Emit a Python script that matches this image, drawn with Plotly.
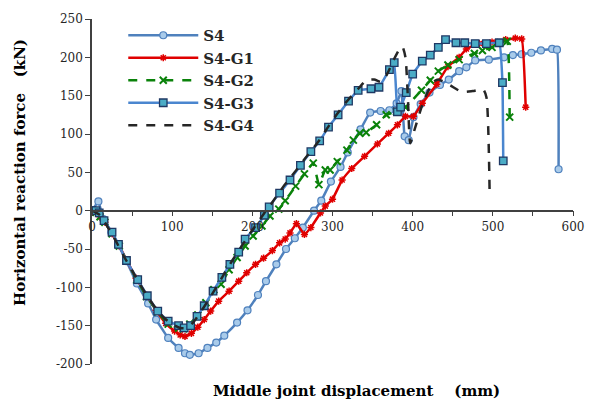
import plotly.graph_objects as go

# ---- data ----
s4_x = [0, 8, 14, 24, 33, 43, 56, 70, 80, 95, 108, 116, 122, 133, 144, 155, 165, 181, 194, 207, 217, 230, 242, 253, 263, 277, 286, 298, 310, 319, 335, 347, 360, 371, 380, 386, 390, 395, 401, 410, 421, 434, 445, 458, 467, 478, 495, 514, 525, 536, 548, 560, 574, 580, 582]
s4_y = [0, 12, -11, -28, -45, -66, -95, -121, -142, -166, -179, -186, -188, -186, -179, -172, -163, -146, -130, -110, -92, -70, -50, -36, -22, 0, 13, 38, 57, 76, 106, 128, 130, 131, 140, 156, 97, 92, 122, 139, 154, 164, 171, 182, 187, 196, 197, 200, 203, 204, 206, 209, 211, 210, 54]

g1_x = [0, 5, 10, 16, 25, 34, 43, 55, 68, 80, 92, 103, 110, 116, 124, 132, 140, 148, 158, 171, 183, 193, 204, 214, 225, 234, 241, 247, 255, 265, 273, 285, 291, 300, 312, 324, 340, 356, 370, 381, 391, 401, 412, 430, 444, 458, 467, 483, 499, 516, 528, 536, 541]
g1_y = [0, -2, -8, -15, -30, -46, -64, -88, -110, -130, -147, -157, -162, -164, -160, -152, -142, -131, -118, -105, -92, -81, -70, -62, -52, -42, -37, -29, -17, -31, -22, -3, 6, 15, 40, 55, 71, 87, 101, 112, 123, 123, 140, 165, 188, 200, 211, 218, 220, 223, 225, 224, 135]

g2_x = [0, 5, 10, 16, 25, 34, 43, 56, 68, 82, 95, 108, 114, 122, 132, 142, 152, 161, 171, 181, 191, 201, 212, 222, 233, 241, 254, 265, 276, 283, 291, 297, 306, 318, 326, 334, 342, 355, 367, 380, 391, 411, 422, 432, 444, 458, 477, 487, 499, 509, 518, 521]
g2_y = [0, -2, -8, -15, -30, -46, -65, -90, -112, -132, -148, -153, -154, -148, -136, -120, -103, -96, -77, -61, -46, -33, -20, -7, 2, 13, 32, 48, 62, 34, 53, 53, 64, 79, 92, 101, 102, 112, 125, 129, 135, 157, 170, 182, 190, 197, 205, 209, 213, 219, 221, 122]

g3_x = [0, 5, 9, 15, 25, 33, 43, 57, 69, 82, 95, 108, 115, 123, 131, 140, 151, 162, 172, 183, 191, 204, 215, 221, 234, 247, 260, 273, 284, 295, 307, 320, 332, 348, 358, 371, 377, 381, 385, 392, 400, 412, 422, 432, 441, 454, 465, 478, 492, 508, 512, 513]
g3_y = [0, 0, -3, -13, -28, -44, -65, -90, -111, -131, -144, -150, -153, -150, -138, -124, -105, -87, -70, -54, -37, -22, -6, 5, 23, 40, 59, 77, 91, 109, 125, 143, 157, 159, 161, 184, 193, 129, 135, 154, 178, 195, 203, 213, 223, 219, 219, 218, 218, 219, 167, 65]

g4_x = [0, 10, 20, 30, 40, 50, 60, 70, 80, 90, 100, 110, 118, 126, 135, 145, 155, 165, 175, 185, 195, 205, 215, 225, 235, 245, 255, 265, 275, 285, 295, 305, 315, 325, 333, 342, 352, 361, 368, 376, 382, 387, 391, 394, 397, 401, 414, 426, 432, 446, 461, 475, 488, 492, 496]
g4_y = [0, -6, -22, -40, -60, -78, -96, -113, -128, -140, -148, -153, -153, -146, -133, -117, -100, -82, -65, -49, -33, -18, -3, 11, 26, 40, 53, 67, 80, 94, 110, 125, 139, 151, 160, 170, 171, 168, 178, 196, 208, 214, 200, 148, 88, 101, 144, 168, 171, 164, 155, 156, 158, 148, 23]

x_ticks = [0, 100, 200, 300, 400, 500, 600]
y_ticks = [-200, -150, -100, -50, 0, 50, 100, 150, 200, 250]

series = ["S4", "S4-G1", "S4-G2", "S4-G3", "S4-G4"]

fig = go.Figure()

fig.add_trace(go.Scatter(
    x=s4_x, y=s4_y, name=series[0], mode="lines+markers",
    line=dict(color="#4F81BD", width=2.5, shape="spline", smoothing=0.3),
    marker=dict(symbol="circle", size=7, color="#A9CBEA", line=dict(color="#4F81BD", width=1.2))))

fig.add_trace(go.Scatter(
    x=g1_x, y=g1_y, name=series[1], mode="lines+markers",
    line=dict(color="#E00000", width=2.5, shape="spline", smoothing=0.3),
    marker=dict(symbol="asterisk-open", size=6, line=dict(color="#FF6060", width=1.5))))

fig.add_trace(go.Scatter(
    x=g2_x, y=g2_y, name=series[2], mode="lines+markers",
    line=dict(color="#0A820A", width=2.5, dash="dash", shape="spline", smoothing=0.3),
    marker=dict(symbol="x-thin-open", size=7, line=dict(color="#0A820A", width=2))))

fig.add_trace(go.Scatter(
    x=g3_x, y=g3_y, name=series[3], mode="lines+markers",
    line=dict(color="#4A86CF", width=2.5, shape="spline", smoothing=0.3),
    marker=dict(symbol="square", size=7.5, color="#4BACC6", line=dict(color="#1F3864", width=1.3))))

fig.add_trace(go.Scatter(
    x=g4_x, y=g4_y, name=series[4], mode="lines",
    line=dict(color="#262626", width=2.5, dash="dash", shape="spline", smoothing=0.6)))

axis_font = dict(family="DejaVu Serif", size=12, color="#262626")

fig.update_layout(
    width=596, height=400,
    margin=dict(l=92, r=13, t=18, b=36),
    paper_bgcolor="white", plot_bgcolor="white",
    showlegend=True,
    legend=dict(x=0.065, y=1.0, xanchor="left", yanchor="top",
                font=dict(family="DejaVu Serif", size=15, color="#262626", weight="bold"),
                itemwidth=70, tracegroupgap=0, bgcolor="rgba(0,0,0,0)"),
    xaxis=dict(range=[0, 600], tickvals=x_ticks, ticktext=[str(v) for v in x_ticks],
               showgrid=False, zeroline=False, showline=True, linecolor="#404040", linewidth=1.5,
               ticks="outside", ticklen=5, tickcolor="#404040", tickwidth=1.2,
               minor=dict(dtick=50, ticks="outside", ticklen=5, tickcolor="#404040", tickwidth=1.2),
               anchor="free", position=200 / 450, tickfont=axis_font),
    yaxis=dict(range=[-200, 250], tickvals=y_ticks, ticktext=[str(v) for v in y_ticks],
               showgrid=False, zeroline=False, showline=True, linecolor="#404040", linewidth=1.5,
               ticks="outside", ticklen=5, tickcolor="#404040", tickwidth=1.2,
               tickfont=axis_font),
    annotations=[
        dict(text="Middle joint displacement    (mm)", xref="paper", yref="paper",
             x=0.55, y=-0.078, xanchor="center", yanchor="middle", showarrow=False,
             font=dict(family="DejaVu Serif", size=15, color="#000000", weight="bold")),
        dict(text="Horizontal reaction force   (kN)", xref="paper", yref="paper",
             x=-0.151, y=0.555, xanchor="center", yanchor="middle", textangle=-90, showarrow=False,
             font=dict(family="DejaVu Serif", size=15, color="#000000", weight="bold")),
    ],
)

fig.write_html("out.html")
